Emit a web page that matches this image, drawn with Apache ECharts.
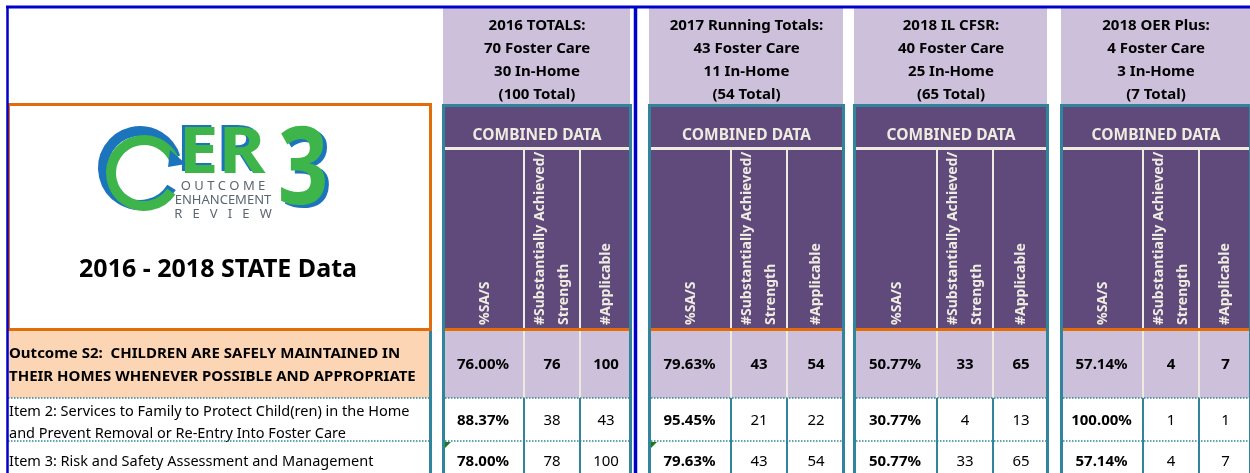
<!DOCTYPE html>
<html>
<head>
<meta charset="utf-8">
<title>OER3 2016 - 2018 STATE Data</title>
<script src="https://cdn.jsdelivr.net/npm/echarts@6/dist/echarts.min.js"></script>
<style>
  html, body { margin: 0; padding: 0; background: #fff; }
  #chart { width: 1250px; height: 473px; }
</style>
</head>
<body>
<div id="chart"></div>
<script>
// ---- data ----
const sectionTitles = ['2016 TOTALS:', '2017 Running Totals:', '2018 IL CFSR:', '2018 OER Plus:']
const fosterCare = [70, 43, 40, 4]
const inHome = [30, 11, 25, 3]
const caseTotals = [100, 54, 65, 7]
const subHeaders = ['%SA/S', '#Substantially Achieved/\nStrength', '#Applicable']
const rowLabels = [
  'Outcome S2:  CHILDREN ARE SAFELY MAINTAINED IN\nTHEIR HOMES WHENEVER POSSIBLE AND APPROPRIATE',
  'Item 2: Services to Family to Protect Child(ren) in the Home\nand Prevent Removal or Re-Entry Into Foster Care',
  'Item 3: Risk and Safety Assessment and Management'
]
const pctSAS = [
  [76.00, 79.63, 50.77, 57.14],
  [88.37, 95.45, 30.77, 100.00],
  [78.00, 79.63, 50.77, 57.14]
]
const numAchieved = [
  [76, 43, 33, 4],
  [38, 21, 4, 1],
  [78, 43, 33, 4]
]
const numApplicable = [
  [100, 54, 65, 7],
  [43, 22, 13, 1],
  [100, 54, 65, 7]
]

// ---- layout (sheet column / row edges) ----
const secX = [
  [442, 524, 580, 632],
  [648, 731, 787, 845],
  [853, 937, 993, 1049],
  [1060, 1143, 1199, 1252]
]
const rowY = [330, 398, 441, 490]
const rowTextY = [365, 421, 462]
const labelX = [7, 432]

const FONT = '"Noto Sans", "Open Sans", sans-serif'
const BLUE = '#0000cc'
const ORANGE = '#e36c09'
const PEACH = '#fcd5b4'
const LAVENDER = '#ccc0da'
const PURPLE = '#604a7b'
const CREAM = '#eeece1'
const TEAL = '#31849b'
const LOGO_GREEN = '#3db54a'
const LOGO_BLUE = '#1c75bc'
const LOGO_GREY = '#5c6670'

const cellText = (s, c, r) => {
  if (c === 0) return pctSAS[r][s].toFixed(2) + '%'
  if (c === 1) return String(numAchieved[r][s])
  return String(numApplicable[r][s])
}

const cellData = []
for (let r = 0; r < rowLabels.length; r++) {
  for (let s = 0; s < sectionTitles.length; s++) {
    for (let c = 0; c < subHeaders.length; c++) cellData.push([s, c, r])
  }
}
const labelData = rowLabels.map((_, r) => [r])

const chart = echarts.init(document.getElementById('chart'), null, { renderer: 'canvas' })

// static sheet furniture
const graphics = []
const line = (x1, y1, x2, y2, stroke, lineWidth, z, dash) => graphics.push({
  type: 'line', z: z, silent: true,
  shape: { x1, y1, x2, y2 },
  style: { stroke, lineWidth, lineDash: dash || null }
})
const rect = (x, y, width, height, fill, z) => graphics.push({
  type: 'rect', z: z, silent: true, shape: { x, y, width, height }, style: { fill }
})
const text = (x, y, t, font, fill, opts) => graphics.push(Object.assign({
  type: 'text', z: 60, silent: true, x, y,
  style: Object.assign({ text: t, font, fill, align: 'center', verticalAlign: 'middle' }, (opts && opts.style) || {})
}, (opts && opts.el) || {}))

secX.forEach((xs, s) => {
  const x0 = xs[0], x3 = xs[3]
  // header block
  rect(x0 + 1, 8, x3 - x0 - 3, 96, LAVENDER, 1)
  const lines = [sectionTitles[s], fosterCare[s] + ' Foster Care', inHome[s] + ' In-Home', '(' + caseTotals[s] + ' Total)']
  lines.forEach((t, i) => text((x0 + x3) / 2, 26 + i * 22.8, t, 'bold 15px ' + FONT, '#000'))
  // purple column header
  rect(x0, 104, x3 - x0, 226, PURPLE, 1)
  text((x0 + x3) / 2, 136, 'COMBINED DATA', 'bold 15.5px ' + FONT, CREAM)
  line(x0, 148.5, x3, 148.5, CREAM, 3, 50)
  subHeaders.forEach((h, c) => {
    const cx = (xs[c] + xs[c + 1]) / 2 + (c === 0 ? 2 : 0)
    text(cx, 325, h, 'bold 14px ' + FONT, CREAM, {
      el: { rotation: Math.PI / 2 },
      style: { align: 'left', lineHeight: 24 }
    })
  })
  ;[xs[1], xs[2]].forEach(x => {
    line(x, 150, x, 398, CREAM, 2, 50)
    line(x, 398, x, 473, TEAL, 2, 50)
  })
  line(x0, 329.5, x3, 329.5, ORANGE, 3, 55)
  // dotted row rules
  rowY.slice(1, 3).forEach(y => line(x0, y, x3, y, TEAL, 1.5, 52, [1.5, 1.5]))
  // teal box
  graphics.push({
    type: 'rect', z: 58, silent: true,
    shape: { x: x0 + 1.5, y: 105.5, width: x3 - x0 - 3, height: 400 },
    style: { fill: null, stroke: TEAL, lineWidth: 3 }
  })
})

// label column
rect(8, 331, 423, 67, PEACH, 1)
rowY.slice(1, 3).forEach(y => line(8, y, 431, y, TEAL, 1.5, 52, [1.5, 1.5]))
line(430.5, 330, 430.5, 473, TEAL, 3, 56)
graphics.push({
  type: 'rect', z: 57, silent: true,
  shape: { x: 8.5, y: 104.5, width: 422, height: 225 },
  style: { fill: null, stroke: ORANGE, lineWidth: 3 }
})
text(218, 270, '2016 - 2018 STATE Data', 'bold 25px ' + FONT, '#000')

// logo
graphics.push({
  type: 'arc', z: 20, silent: true,
  shape: { cx: 140, cy: 168, r: 37, startAngle: 0.55, endAngle: Math.PI * 2 - 0.3, clockwise: true },
  style: { fill: null, stroke: LOGO_BLUE, lineWidth: 10 }
})
graphics.push({
  type: 'arc', z: 21, silent: true,
  shape: { cx: 144, cy: 173, r: 33, startAngle: 0.6, endAngle: Math.PI * 2 - 0.35, clockwise: true },
  style: { fill: null, stroke: LOGO_GREEN, lineWidth: 10 }
})
graphics.push({
  type: 'polygon', z: 22, silent: true,
  shape: { points: [[170, 150], [186, 164], [168, 167]] },
  style: { fill: LOGO_BLUE }
})
text(219, 153, 'ER', 'bold 64px ' + FONT, LOGO_BLUE, { el: { z: 20, scaleX: 1.12 } })
text(222, 155, 'ER', 'bold 64px ' + FONT, LOGO_GREEN, { el: { z: 21, scaleX: 1.12 } })
text(307, 176, '3', 'bold 108px ' + FONT, LOGO_BLUE, { el: { z: 20, scaleX: 0.82 } })
text(303, 173, '3', 'bold 108px ' + FONT, LOGO_GREEN, { el: { z: 21, scaleX: 0.82 } })
text(223, 186, 'O U T C O M E', '13px ' + FONT, LOGO_GREY)
text(223, 200, 'ENHANCEMENT', '13px ' + FONT, LOGO_GREY)
text(223, 214, 'R   E   V   I   E   W', '13px ' + FONT, LOGO_GREY)

// Excel flag triangles
;[secX[0][0] + 3, secX[1][0] + 3].forEach(x => graphics.push({
  type: 'polygon', z: 59, silent: true,
  shape: { points: [[x, 442], [x + 6, 442], [x, 448]] },
  style: { fill: '#1a7a1a' }
}))

// outer blue rules
line(6, 7, 1250, 7, BLUE, 3, 70)
line(7.5, 6, 7.5, 473, BLUE, 2.5, 70)
line(635.5, 6, 635.5, 473, BLUE, 3.5, 70)

const option = {
  animation: false,
  backgroundColor: '#fff',
  grid: { left: 0, right: 0, top: 0, bottom: 0 },
  xAxis: { type: 'value', min: 0, max: 1250, show: false },
  yAxis: { type: 'value', min: 0, max: 473, inverse: true, show: false },
  graphic: { elements: graphics },
  series: [
    {
      name: 'cells',
      type: 'custom',
      coordinateSystem: 'cartesian2d',
      z: 3,
      silent: true,
      data: cellData,
      renderItem: (params, api) => {
        const s = api.value(0), c = api.value(1), r = api.value(2)
        const p0 = api.coord([secX[s][c], rowY[r]])
        const p1 = api.coord([secX[s][c + 1], rowY[r + 1]])
        const bold = r === 0 || c === 0
        return {
          type: 'group',
          children: [
            {
              type: 'rect',
              shape: { x: p0[0], y: p0[1], width: p1[0] - p0[0], height: p1[1] - p0[1] },
              style: { fill: r === 0 ? LAVENDER : '#fff' }
            },
            {
              type: 'text',
              x: (p0[0] + p1[0]) / 2,
              y: api.coord([0, rowTextY[r]])[1],
              style: {
                text: cellText(s, c, r),
                font: (bold ? 'bold ' : '') + '15px ' + FONT,
                fill: '#000',
                align: 'center',
                verticalAlign: 'middle'
              }
            }
          ]
        }
      }
    },
    {
      name: 'labels',
      type: 'custom',
      coordinateSystem: 'cartesian2d',
      z: 3,
      silent: true,
      data: labelData,
      renderItem: (params, api) => {
        const r = api.value(0)
        const p = api.coord([labelX[0] + 2, rowTextY[r] + (r === 1 ? 2 : 0)])
        return {
          type: 'text',
          x: p[0],
          y: p[1],
          style: {
            text: rowLabels[r],
            font: (r === 0 ? 'bold 15px ' : '14.5px ') + FONT,
            lineHeight: r === 0 ? 23 : 22,
            fill: '#000',
            align: 'left',
            verticalAlign: 'middle'
          }
        }
      }
    }
  ]
}

chart.setOption(option)
</script>
</body>
</html>
